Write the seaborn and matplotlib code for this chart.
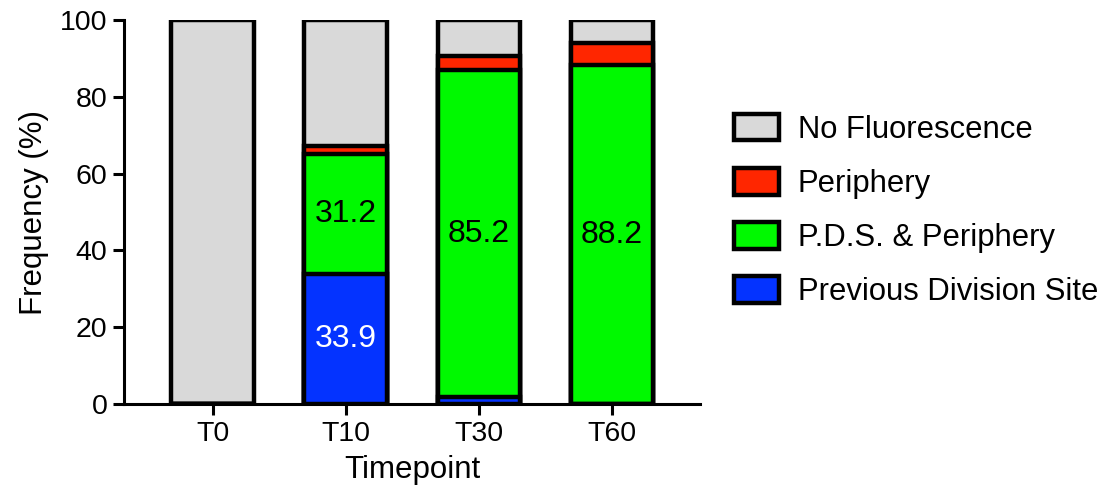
import matplotlib
matplotlib.use("Agg")
import matplotlib.pyplot as plt
from matplotlib.patches import Patch
import numpy as np
import pandas as pd
import seaborn as sns

# Data (% of cells per localisation class)
timepoints = ["T0", "T10", "T30", "T60"]
previous_division_site = [0.0, 33.9, 1.8, 0.0]
pds_and_periphery = [0.0, 31.2, 85.2, 88.2]
periphery = [0.0, 2.0, 3.6, 5.7]
no_fluorescence = [100.0, 32.9, 9.4, 6.1]

categories = ["Previous Division Site", "P.D.S. & Periphery", "Periphery", "No Fluorescence"]
colors = ["#0433FF", "#00F900", "#FF2600", "#D9D9D9"]

sns.set_style("white")
plt.rcParams["font.family"] = ["Liberation Sans", "DejaVu Sans"]
plt.rcParams.update({"text.color": "black", "axes.labelcolor": "black",
                     "xtick.color": "black", "ytick.color": "black"})

segments = np.array([previous_division_site, pds_and_periphery, periphery, no_fluorescence])
tops = segments.cumsum(axis=0)
bottoms = tops - segments

fig = plt.figure(figsize=(11.04, 5.01), dpi=100)
ax = fig.add_axes([0.1123, 0.1936, 0.5217, 0.7664])

# Stacked bars: draw cumulative totals from the top layer down
for i in range(len(categories) - 1, -1, -1):
    df = pd.DataFrame({"Timepoint": timepoints, "Frequency": tops[i]})
    sns.barplot(data=df, x="Timepoint", y="Frequency", order=timepoints,
                color=colors[i], saturation=1, width=0.62,
                edgecolor="black", linewidth=3.2, ax=ax, zorder=2 + (3 - i) * 0.01)

# Value labels inside selected segments
labels = [(1, 0, "white"), (1, 1, "black"), (2, 1, "black"), (3, 1, "black")]
for xi, si, col in labels:
    mid = bottoms[si][xi] + segments[si][xi] / 2
    ax.text(xi, mid, f"{segments[si][xi]:.1f}", ha="center", va="center",
            fontsize=23, color=col, zorder=5)

ax.set_xlim(-0.665, 3.66)
ax.set_ylim(0, 100)
ax.set_yticks([0, 20, 40, 60, 80, 100])
ax.set_xlabel("Timepoint", fontsize=22.5, labelpad=6)
ax.set_ylabel("Frequency (%)", fontsize=22.5, labelpad=8)
ax.tick_params(axis="both", labelsize=20.5, length=8, width=2.2, color="black",
               labelcolor="black", direction="out", bottom=True, left=True, pad=4)
for side in ["top", "right"]:
    ax.spines[side].set_visible(False)
for side in ["left", "bottom"]:
    ax.spines[side].set_linewidth(2.2)
    ax.spines[side].set_color("black")
ax.spines["bottom"].set_zorder(6)

handles = [Patch(facecolor=c, edgecolor="black", linewidth=3.2, label=l)
           for c, l in zip(colors[::-1], categories[::-1])]
fig.legend(handles=handles, loc="center left", bbox_to_anchor=(0.6535, 0.58),
           frameon=False, fontsize=22.3, handlelength=1.45, handleheight=0.95,
           handletextpad=0.62, labelspacing=0.75, borderaxespad=0)

fig.savefig("out.png", dpi=100)
